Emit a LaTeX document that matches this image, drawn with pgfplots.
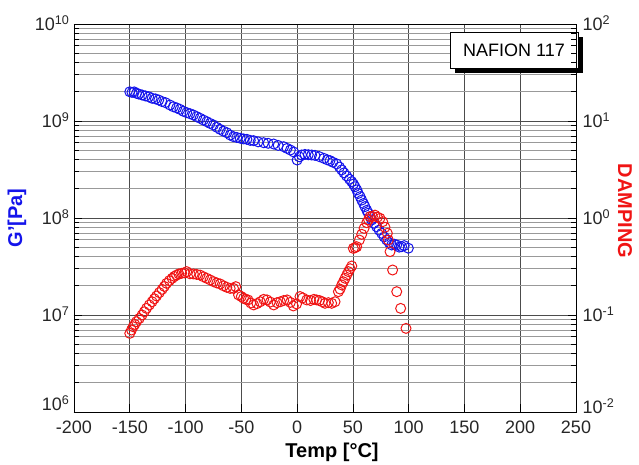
\documentclass[border=0pt]{standalone}
\usepackage{pgfplots}
\pgfplotsset{compat=1.18}
\usepackage{fontspec}
\setmainfont{Liberation Sans}
\usetikzlibrary{shadows}
\definecolor{gblue}{RGB}{20,20,235}
\definecolor{dred}{RGB}{240,20,20}
\pgfplotstableread{
x y
-150 2.00e9
-148 1.972e9
-146 1.995e9
-144 1.928e9
-142 1.897e9
-139 1.854e9
-136 1.811e9
-133 1.778e9
-130 1.714e9
-127 1.690e9
-124 1.644e9
-121 1.585e9
-118 1.545e9
-114 1.462e9
-111 1.403e9
-108 1.365e9
-105 1.318e9
-102 1.259e9
-99 1.219e9
-96 1.189e9
-93 1.153e9
-90 1.109e9
-87 1.067e9
-84 1.023e9
-81 9.84e8
-78 9.44e8
-75 9.10e8
-72 8.61e8
-69 8.20e8
-66 7.85e8
-63 7.57e8
-60 7.16e8
-57 6.89e8
-54 6.76e8
-51 6.64e8
-48 6.53e8
-45 6.47e8
-42 6.31e8
-39 6.27e8
-35 6.10e8
-30 5.97e8
-26 5.89e8
-21 5.79e8
-17 5.60e8
-12 5.43e8
-9 5.22e8
-6 5.02e8
-3 4.79e8
0 3.96e8
2 4.27e8
4 4.46e8
7 4.52e8
10 4.49e8
13 4.46e8
16 4.42e8
20 4.29e8
24 4.12e8
27 3.98e8
29.5 3.90e8
32 3.76e8
35.5 3.61e8
38 3.35e8
40 3.13e8
42 2.92e8
44.4 2.71e8
47 2.51e8
48.9 2.37e8
50.5 2.24e8
51.9 2.10e8
53.5 1.95e8
54.8 1.79e8
56.5 1.66e8
57.9 1.53e8
59.5 1.41e8
60.8 1.31e8
62.5 1.20e8
63.8 1.12e8
65.5 1.035e8
66.8 9.53e7
69 8.81e7
71.3 8.13e7
73.5 7.50e7
75.8 6.95e7
78 6.38e7
80.3 5.93e7
82.5 5.56e7
84.8 5.27e7
87 5.37e7
89.3 5.27e7
91.5 5.01e7
93.7 5.06e7
96 5.19e7
99.7 4.88e7
}\gdata
\pgfplotstableread{
x y
-150 0.0647
-148.5 0.0700
-147 0.0757
-145.5 0.0800
-144 0.0853
-141.5 0.0920
-139 0.100
-137 0.108
-135 0.117
-132.5 0.127
-130 0.137
-128 0.147
-126 0.157
-123.5 0.170
-121 0.184
-119 0.197
-117 0.212
-114.5 0.226
-112 0.239
-110 0.250
-108 0.258
-106 0.265
-103.5 0.269
-101 0.272
-99 0.280
-96 0.266
-93 0.265
-90 0.262
-87 0.258
-84 0.248
-81 0.239
-78 0.230
-75 0.221
-72 0.214
-69 0.209
-66 0.200
-63 0.193
-60 0.188
-57 0.188
-55 0.196
-52.5 0.161
-50 0.155
-48 0.149
-46 0.145
-44 0.143
-41.5 0.133
-39 0.127
-36 0.131
-33 0.137
-30 0.145
-27 0.143
-24 0.136
-21 0.127
-18 0.134
-15 0.137
-12 0.141
-9 0.143
-6 0.135
-3.4 0.124
-0.5 0.130
2.6 0.155
5 0.150
8.6 0.143
12 0.141
15 0.145
17.5 0.143
20 0.141
22.5 0.137
25 0.132
28 0.134
31 0.132
34 0.137
37 0.174
38.5 0.185
40 0.204
41.5 0.220
43 0.239
44.5 0.258
46 0.280
47.5 0.300
49 0.320
50.4 0.486
52 0.495
53.4 0.506
55.8 0.593
57.9 0.679
60 0.782
62.4 0.895
64 0.96
65.3 1.03
67.5 1.04
69.8 1.07
72 1.02
74.3 0.993
76.7 0.916
78.8 0.802
80.9 0.695
81.8 0.593
83.3 0.450
85.6 0.291
89.3 0.174
92.8 0.117
97.6 0.0728
}\ddata
\begin{document}
\begin{tikzpicture}
\useasboundingbox (0,0) rectangle (639pt,465pt);
\begin{axis}[
  at={(74pt,53pt)}, anchor=south west,
  scale only axis, width=502pt, height=388pt,
  xmin=-200, xmax=250,
  ymode=log, ymin=1e6, ymax=1e10,
  xtick={-200,-150,-100,-50,0,50,100,150,200,250},
  xticklabels={-200,-150,-100,-50,0,50,100,150,200,250},
  ytick={1e6,1e7,1e8,1e9,1e10},
  yticklabels={\raisebox{8pt}{10\textsuperscript{6}},10\textsuperscript{7},10\textsuperscript{8},10\textsuperscript{9},10\textsuperscript{10}},
  xtick pos=bottom, ytick pos=left,
  tick align=inside,
  major tick length=8pt, minor tick length=5pt,
  grid=both,
  major grid style={black!70, line width=0.7pt},
  minor grid style={black!40, line width=0.6pt},
  axis line style={black, line width=0.8pt},
  tick style={black, line width=0.7pt},
  tick label style={font=\fontsize{18}{20}\selectfont, text=black!85},
  yticklabel style={anchor=base east, yshift=-6.5pt, xshift=-1pt},
  xticklabel style={yshift=-5.5pt},
  xlabel={Temp [°C]},
  xlabel style={at={(axis description cs:0.514,-0.103)}, anchor=center, font=\bfseries\fontsize{20}{22}\selectfont},
  ylabel={G'[Pa]},
  ylabel style={at={(axis description cs:-0.1135,0.5)}, anchor=center, rotate=0, font=\bfseries\fontsize{20}{22}\selectfont, text=gblue},
  clip=false,
]
\addplot[only marks, mark=o, mark size=5pt, gblue, line width=1pt, mark options={fill=white}] table[x=x,y=y] {\gdata};
\node[draw=black, line width=0.8pt, fill=white, minimum width=128pt, minimum height=36pt, inner sep=0pt,
  drop shadow={shadow xshift=5pt, shadow yshift=-5pt, opacity=1, fill=black},
  font=\fontsize{18}{20}\selectfont] at (axis description cs:0.8765,0.933) {NAFION 117};
\end{axis}
\begin{axis}[
  at={(74pt,53pt)}, anchor=south west,
  scale only axis, width=502pt, height=388pt,
  xmin=-200, xmax=250,
  axis x line=none,
  axis y line*=right,
  ymode=log, ymin=1e-2, ymax=1e2,
  ytick={1e-2,1e-1,1e0,1e1,1e2},
  yticklabels={\raisebox{5pt}{10\textsuperscript{-2}},10\textsuperscript{-1},10\textsuperscript{0},10\textsuperscript{1},10\textsuperscript{2}},
  tick align=inside,
  major tick length=8pt, minor tick length=5pt,
  axis line style={black, line width=0.8pt},
  tick style={black, line width=0.7pt},
  tick label style={font=\fontsize{18}{20}\selectfont, text=black!85},
  yticklabel style={anchor=base west, yshift=-6.5pt, xshift=3pt},
  ylabel={DAMPING},
  ylabel style={at={(axis description cs:1.0976,0.518)}, anchor=center, rotate=180, font=\bfseries\fontsize{20}{22}\selectfont, text=dred},
  clip=false,
]
\addplot[only marks, mark=o, mark size=5pt, dred, line width=1pt, mark options={fill=white}] table[x=x,y=y] {\ddata};
\end{axis}
\end{tikzpicture}
\end{document}
